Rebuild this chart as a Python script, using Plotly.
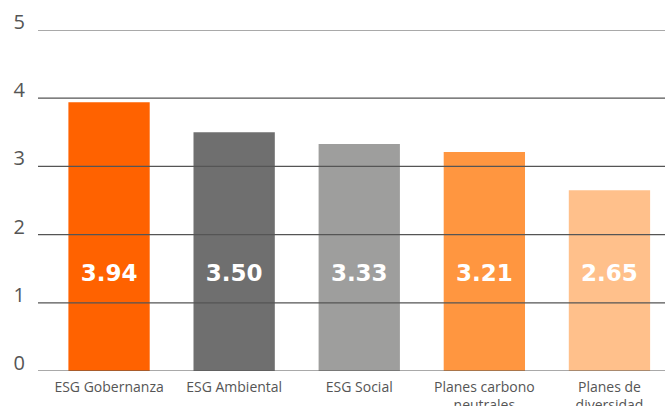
import plotly.graph_objects as go

categories = ["ESG Gobernanza", "ESG Ambiental", "ESG Social",
              "Planes carbono<br>neutrales", "Planes de<br>diversidad"]
values = [3.94, 3.50, 3.33, 3.21, 2.65]
labels = ["3.94", "3.50", "3.33", "3.21", "2.65"]
colors = ["#FF6200", "#6F6F6F", "#9E9E9D", "#FF9640", "#FFC08B"]
y_ticks = [0, 1, 2, 3, 4, 5]
label_y = 1.41

fig = go.Figure()
fig.add_trace(go.Bar(
    x=categories, y=values, marker=dict(color=colors, line=dict(width=0)),
    width=0.65, hoverinfo="skip"))
fig.add_trace(go.Scatter(
    x=categories, y=[label_y] * len(categories), mode="text", text=labels,
    textfont=dict(family="DejaVu Sans", size=23, color="white", weight="bold"),
    hoverinfo="skip"))

for t in y_ticks:
    fig.add_shape(type="line", xref="paper", yref="y", x0=0, x1=1, y0=t, y1=t,
                  line=dict(color="#555555", width=1.2), layer="above")

fig.update_layout(
    width=665, height=406, margin=dict(l=38, r=0, t=30, b=35),
    plot_bgcolor="white", paper_bgcolor="white", showlegend=False,
    font=dict(family="Open Sans", color="#555555"),
    xaxis=dict(range=[-0.568, 4.444], showgrid=False, showline=False,
               ticks="", ticklabelstandoff=6, automargin=False,
               tickfont=dict(size=14, color="#555555")),
    yaxis=dict(range=[0, 5], tickvals=y_ticks, showgrid=False, zeroline=False,
               showline=False, ticks="", ticklabelshift=-8, ticklabelstandoff=12,
               automargin=False, tickfont=dict(size=20, color="#555555")),
)
fig.write_html("out.html")
